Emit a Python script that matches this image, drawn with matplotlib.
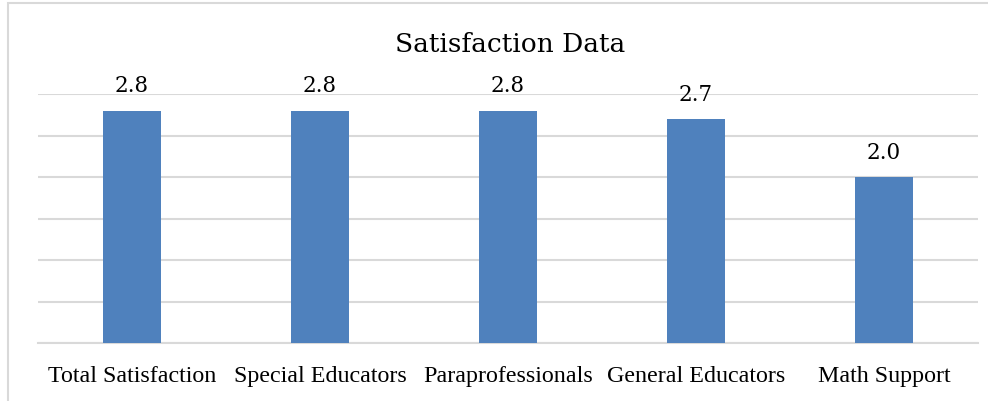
import matplotlib.pyplot as plt
from matplotlib.patches import Rectangle

categories = ['Total Satisfaction', 'Special Educators', 'Paraprofessionals',
              'General Educators', 'Math Support']
values = [2.8, 2.8, 2.8, 2.7, 2.0]
labels = ['2.8', '2.8', '2.8', '2.7', '2.0']

fig = plt.figure(figsize=(9.88, 4.02), dpi=100)
ax = fig.add_axes([38/988, 1-344/402, 940/988, (344-95)/402])

x = range(len(categories))
bars = ax.bar(x, values, width=0.31, color='#4f81bd', zorder=3)
for b, lab in zip(bars, labels):
    ax.text(b.get_x() + b.get_width()/2, b.get_height() + 0.17, lab,
            ha='center', va='bottom', fontsize=15.5, family='DejaVu Serif')

ax.set_xlim(-0.5, len(categories) - 0.5)
ax.set_ylim(0, 3.0)
ax.set_yticks([0, 0.5, 1.0, 1.5, 2.0, 2.5, 3.0])
ax.yaxis.grid(True, color='#d9d9d9', linewidth=1.5, zorder=0)
ax.tick_params(axis='y', left=False, labelleft=False)
ax.tick_params(axis='x', bottom=False, pad=24)
ax.set_xticks(list(x))
ax.set_xticklabels(categories, fontsize=17.3, family='Liberation Serif', va='baseline')
for s in ['top', 'right', 'left']:
    ax.spines[s].set_visible(False)
ax.spines['bottom'].set_color('#d9d9d9')
ax.spines['bottom'].set_linewidth(1.5)

fig.text(510/988, 1-45/402, 'Satisfaction Data', ha='center', va='center',
         fontsize=19, family='DejaVu Serif')

fig.patches.append(Rectangle((8/988, -0.1), 1.2, 1 - 4/402 + 0.1,
                             transform=fig.transFigure, fill=False,
                             edgecolor='#d9d9d9', linewidth=1.5))

fig.savefig('out.png', dpi=100)
